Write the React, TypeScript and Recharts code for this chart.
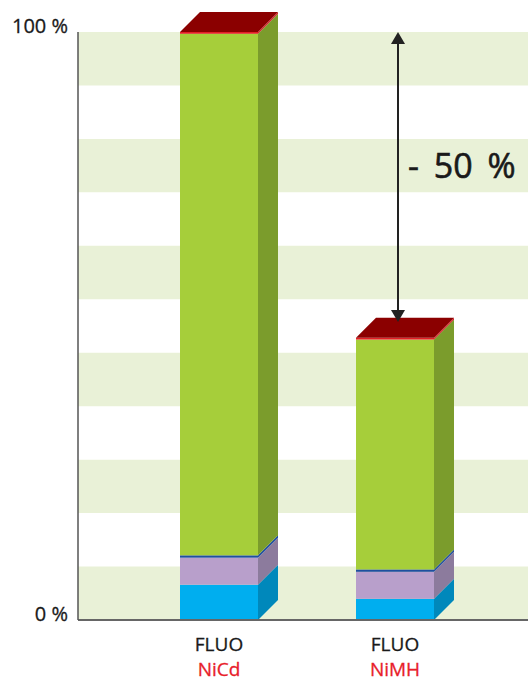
import React from 'react';
import {
  BarChart,
  Bar,
  XAxis,
  YAxis,
  ReferenceArea,
  ReferenceLine,
} from 'recharts';

// categories and stacked segment values (% of NiCd total)
const categories = ['NiCd', 'NiMH'];
const topLabel = 'FLUO';
const blueValues = [6.0, 3.6];
const purpleValues = [4.6, 4.6];
const seamValues = [0.4, 0.4];
const greenValues = [88.7, 39.1];
const capValues = [0.3, 0.3];

const yTicks = [0, 100];
const bandCount = 11;
const arrowFrom = 100;
const arrowTo = 50.7;
const arrowLabel = '- 50 %';

const DEPTH = 20;
const FONT = '"Open Sans", "Noto Sans", sans-serif';

const data = categories.map((name, i) => ({
  name,
  blue: blueValues[i],
  purple: purpleValues[i],
  seam: seamValues[i],
  green: greenValues[i],
  cap: capValues[i],
}));

// green background bands, every other one starting at the bottom
const bands = Array.from({ length: bandCount }, (_, k) => k)
  .filter(k => k % 2 === 0)
  .map(k => [(k * 100) / bandCount, ((k + 1) * 100) / bandCount]);

const make3D = (front: string, side: string, top?: string) => (props: any) => {
  const { x, y, width, height } = props;
  if (width == null || height == null) return <g />;
  const d = DEPTH;
  return (
    <g>
      <rect x={x} y={y} width={width} height={height} fill={front} />
      <polygon
        points={`${x + width},${y} ${x + width + d},${y - d} ${x + width + d},${y + height - d} ${x + width},${y + height}`}
        fill={side}
      />
      {top && (
        <polygon
          points={`${x},${y} ${x + d},${y - d} ${x + width + d},${y - d} ${x + width},${y}`}
          fill={top}
        />
      )}
    </g>
  );
};

const ArrowShape = (props: any) => {
  const { x1, y1, x2, y2 } = props;
  if (x1 == null) return <g />;
  const x = x1 + 3;
  const top = Math.min(y1, y2);
  const bottom = Math.max(y1, y2);
  const head = 12;
  const hw = 7;
  return (
    <g>
      <line x1={x} y1={top + head} x2={x} y2={bottom - head} stroke="#222" strokeWidth={2} />
      <polygon points={`${x},${top} ${x - hw},${top + head} ${x + hw},${top + head}`} fill="#222" />
      <polygon points={`${x},${bottom} ${x - hw},${bottom - head} ${x + hw},${bottom - head}`} fill="#222" />
      <text
        x={x + 10}
        y={(top + bottom) / 2 - 12}
        dominantBaseline="central"
        fontSize={34}
        wordSpacing={6}
        fill="#1a1a1a"
        stroke="#1a1a1a"
        strokeWidth={0.6}
        fontFamily={FONT}
      >
        {arrowLabel}
      </text>
    </g>
  );
};

const XTick = (props: any) => {
  const { x, y, payload } = props;
  return (
    <g>
      <text x={x} y={y + 23} textAnchor="middle" fontSize={19} fill="#1a1a1a" stroke="#1a1a1a" strokeWidth={0.3} fontFamily={FONT}>
        {topLabel}
      </text>
      <text x={x} y={y + 48} textAnchor="middle" fontSize={19} fill="#e8202a" stroke="#e8202a" strokeWidth={0.3} fontFamily={FONT}>
        {payload.value}
      </text>
    </g>
  );
};

export default function App() {
  return (
    <div style={{ position: 'absolute', left: 0, top: 0, width: 528, height: 682, background: '#fff' }}>
      <BarChart
        width={528}
        height={682}
        data={data}
        margin={{ top: 32, right: 0, left: 0, bottom: 0 }}
        barSize={78}
      >
        <XAxis xAxisId="bg" dataKey="name" hide />
        {bands.map(([a, b], i) => (
          <ReferenceArea
            key={i}
            xAxisId="bg"
            y1={a}
            y2={b}
            fill="#e9f1d7"
            fillOpacity={1}
            stroke="none"
            ifOverflow="visible"
          />
        ))}
        <XAxis
          dataKey="name"
          height={62}
          padding={{ left: 53, right: 45 }}
          axisLine={{ stroke: '#666', strokeWidth: 2 }}
          tickLine={false}
          tick={<XTick />}
          interval={0}
        />
        <YAxis
          width={78}
          domain={[0, 100]}
          ticks={yTicks}
          tickFormatter={(v: number) => `${v} %`}
          axisLine={{ stroke: '#555', strokeWidth: 1.5 }}
          tickLine={false}
          tickMargin={4}
          tick={{ fontSize: 20, fill: '#1a1a1a', stroke: '#1a1a1a', strokeWidth: 0.3, fontFamily: FONT, dy: -6 }}
        />
        <Bar dataKey="blue" stackId="a" isAnimationActive={false} shape={make3D('#00aeef', '#0088bb')} />
        <Bar dataKey="purple" stackId="a" isAnimationActive={false} shape={make3D('#b89fcb', '#8c7b9d')} />
        <Bar dataKey="seam" stackId="a" isAnimationActive={false} shape={make3D('#1f4f9f', '#1f4f9f')} />
        <Bar dataKey="green" stackId="a" isAnimationActive={false} shape={make3D('#a6ce3a', '#7b9c2c')} />
        <Bar dataKey="cap" stackId="a" isAnimationActive={false} shape={make3D('#e41e26', '#d8232a', '#8b0000')} />
        <ReferenceLine
          segment={[
            { x: categories[1], y: arrowFrom },
            { x: categories[1], y: arrowTo },
          ]}
          ifOverflow="visible"
          shape={ArrowShape}
        />
      </BarChart>
    </div>
  );
}
